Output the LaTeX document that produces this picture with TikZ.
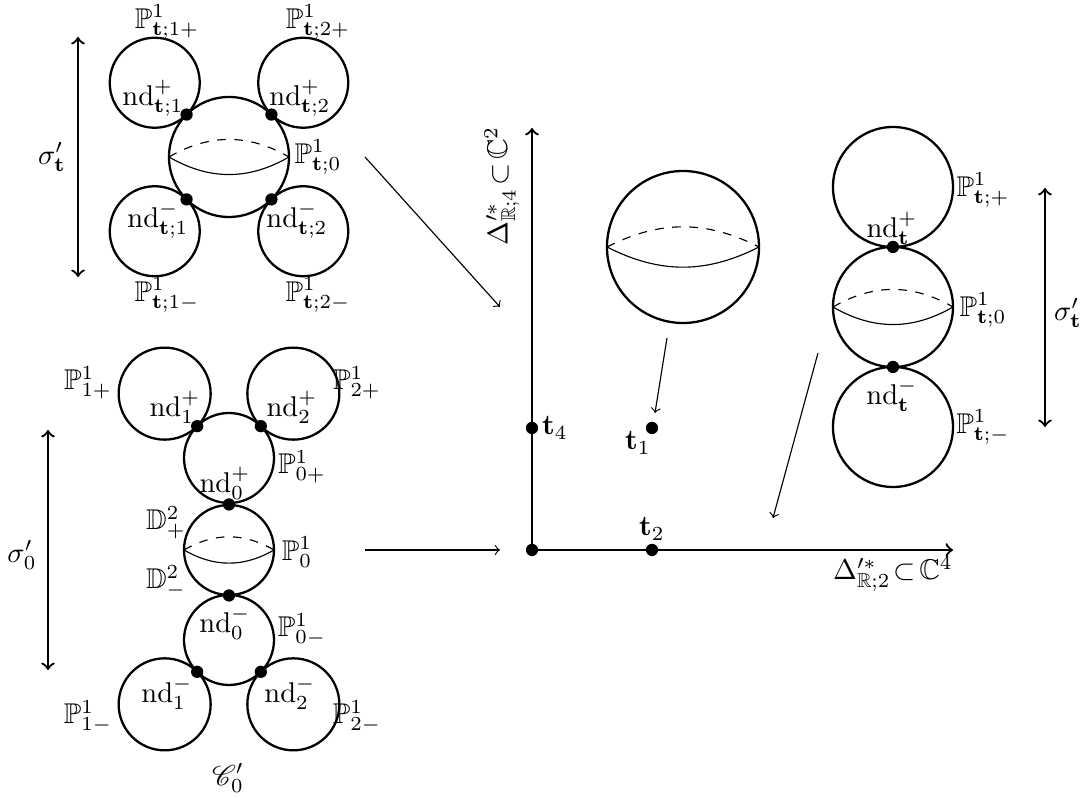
\documentclass[tikz,border=0pt]{standalone}
\usepackage{amsmath,amssymb,mathrsfs}
\usetikzlibrary{calc}

\begin{document}
\begin{tikzpicture}[x=0.35pt,y=0.35pt,
    sph/.style={thick},
    dot/.style={circle,fill,inner sep=0pt,minimum size=4.3pt},
    map/.style={thin,->},
    axis/.style={thick,->},
    spanarrow/.style={thick,<->}]
  \useasboundingbox (0,0) rectangle (1087,798);

  % equator of a sphere: solid front, dashed back
  \def\equator#1#2#3{
    \draw[thin] ($(#1)+(-#2,0)$) to[bend right=#3] ($(#1)+(#2,0)$);
    \draw[thin,dashed] ($(#1)+(-#2,0)$) to[bend left=#3] ($(#1)+(#2,0)$);
  }

  % Curve over t (top left)
  \coordinate (T0) at (229,641);
  \draw[sph] (T0) circle (60);
  \equator{T0}{60}{30}
  \foreach \a in {45,135,225,315} {
    \draw[sph] (T0) ++(\a:105) circle (45);
    \path (T0) ++(\a:60) node[dot] (tnd\a) {};
  }
  \node (PtA) at (167,776) {$\mathbb{P}^1_{\mathbf{t};1+}$};
  \node (PtB) at (318,776) {$\mathbb{P}^1_{\mathbf{t};2+}$};
  \node (ndtA) at (153,700) {$\mathrm{nd}^+_{\mathbf{t};1}$};
  \node (ndtB) at (300,700) {$\mathrm{nd}^+_{\mathbf{t};2}$};
  \node (Pt0) at (318,641) {$\mathbb{P}^1_{\mathbf{t};0}$};
  \node (ndtC) at (158,578) {$\mathrm{nd}^-_{\mathbf{t};1}$};
  \node (ndtD) at (297,578) {$\mathrm{nd}^-_{\mathbf{t};2}$};
  \node (PtC) at (167,503) {$\mathbb{P}^1_{\mathbf{t};1-}$};
  \node (PtD) at (318,503) {$\mathbb{P}^1_{\mathbf{t};2-}$};
  \coordinate (stA) at (78,761);
  \coordinate (stB) at (78,521);
  \draw[spanarrow] (stA) -- (stB);
  \node (st) at (52,641) {$\sigma'_{\mathbf{t}}$};

  % Curve over 0 (bottom left)
  \coordinate (Ca) at (229,340);
  \coordinate (Cb) at (229,248);
  \coordinate (Cc) at (229,158);
  \foreach \c in {Ca,Cb,Cc} \draw[sph] (\c) circle (45);
  \equator{Cb}{45}{30}
  \foreach \a in {45,135} {
    \draw[sph] (Ca) ++(\a:91) circle (46);
    \path (Ca) ++(\a:45) node[dot] (ndA\a) {};
  }
  \foreach \a in {225,315} {
    \draw[sph] (Cc) ++(\a:91) circle (46);
    \path (Cc) ++(\a:45) node[dot] (ndC\a) {};
  }
  \node[dot] (ndp) at (229,293.5) {};
  \node[dot] (ndm) at (229,202.5) {};
  \node (PA) at (88,415) {$\mathbb{P}^1_{1+}$};
  \node (PB) at (357,415) {$\mathbb{P}^1_{2+}$};
  \node (ndA) at (175,391) {$\mathrm{nd}^+_1$};
  \node (ndB) at (292,391) {$\mathrm{nd}^+_2$};
  \node (P0p) at (302,331) {$\mathbb{P}^1_{0+}$};
  \node (nd0p) at (225,315) {$\mathrm{nd}^+_0$};
  \node (Dp) at (166,275) {$\mathbb{D}^2_+$};
  \node (P0) at (297,246) {$\mathbb{P}^1_0$};
  \node (Dm) at (166,216) {$\mathbb{D}^2_-$};
  \node (nd0m) at (225,175) {$\mathrm{nd}^-_0$};
  \node (P0m) at (302,168) {$\mathbb{P}^1_{0-}$};
  \node (ndC) at (167,105) {$\mathrm{nd}^-_1$};
  \node (ndD) at (290,105) {$\mathrm{nd}^-_2$};
  \node (PC) at (88,81) {$\mathbb{P}^1_{1-}$};
  \node (PD) at (357,81) {$\mathbb{P}^1_{2-}$};
  \node (C0) at (228,20) {$\mathscr{C}'_0$};
  \coordinate (s0A) at (48,368);
  \coordinate (s0B) at (48,128);
  \draw[spanarrow] (s0A) -- (s0B);
  \node (s0) at (22,243) {$\sigma'_0$};

  % Axes
  \coordinate (O) at (532,248);
  \coordinate (yend) at (532,670);
  \coordinate (xend) at (953,248);
  \draw[axis] (O) -- (yend);
  \draw[axis] (O) -- (xend);
  \node[dot] (o) at (O) {};
  \node[dot] (t4) at (532,370) {};
  \node[dot] (t2) at (652,248) {};
  \node[dot] (t1) at (652,370) {};
  \node[right,inner sep=1pt] (t4lab) at (t4.east) {$\mathbf{t}_4$};
  \node (t1lab) at (638,355) {$\mathbf{t}_1$};
  \node (t2lab) at (652,269) {$\mathbf{t}_2$};
  \node[rotate=90] (ylab) at (502,612) {$\Delta'^{*}_{\mathbb{R};4}\!\subset\!\mathbb{C}^2$};
  \node (xlab) at (893,224) {$\Delta'^{*}_{\mathbb{R};2}\!\subset\!\mathbb{C}^4$};

  % Sphere over t_1
  \coordinate (S1) at (683,551);
  \draw[sph] (S1) circle (76);
  \equator{S1}{76}{27}

  % Curve over t (right)
  \coordinate (Ra) at (893,611);
  \coordinate (Rb) at (893,491);
  \coordinate (Rc) at (893,371);
  \foreach \c in {Ra,Rb,Rc} \draw[sph] (\c) circle (60);
  \equator{Rb}{60}{30}
  \node[dot] (ndRp) at (893,551) {};
  \node[dot] (ndRm) at (893,431) {};
  \node (PRp) at (983,608) {$\mathbb{P}^1_{\mathbf{t};+}$};
  \node (ndtp) at (892,570) {$\mathrm{nd}^+_{\mathbf{t}}$};
  \node (PR0) at (983,488) {$\mathbb{P}^1_{\mathbf{t};0}$};
  \node (ndtm) at (892,403) {$\mathrm{nd}^-_{\mathbf{t}}$};
  \node (PRm) at (983,371) {$\mathbb{P}^1_{\mathbf{t};-}$};
  \coordinate (srA) at (1045,610);
  \coordinate (srB) at (1045,371);
  \draw[spanarrow] (srA) -- (srB);
  \node (sr) at (1068,485) {$\sigma'_{\mathbf{t}}$};

  % Maps down to the base
  \coordinate (mA) at (365,641);
  \coordinate (mAe) at (500,491);
  \coordinate (mB) at (365,248);
  \coordinate (mBe) at (500,248);
  \coordinate (mC) at (667,460);
  \coordinate (mCe) at (655,385);
  \coordinate (mD) at (818,445);
  \coordinate (mDe) at (773,280);
  \draw[map] (mA) -- (mAe);
  \draw[map] (mB) -- (mBe);
  \draw[map] (mC) -- (mCe);
  \draw[map] (mD) -- (mDe);
\end{tikzpicture}
\end{document}
